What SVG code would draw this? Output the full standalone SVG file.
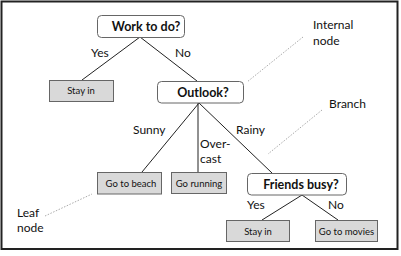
<svg xmlns="http://www.w3.org/2000/svg" width="401" height="256" viewBox="0 0 401 256">
  <style>
    text { font-family: Lato, "Open Sans", "Liberation Sans", sans-serif; fill: #111; }
    .q { font-size: 12.5px; font-weight: bold; text-anchor: middle; }
    .leaf { font-size: 9.5px; text-anchor: middle; }
    .lbl { font-size: 12px; }
    .note { font-size: 12px; }
    .decision { fill: #fff; stroke: #666; stroke-width: 1; }
    .outcome { fill: #d9d9d9; stroke: #666; stroke-width: 1; }
    .edge { stroke: #222; stroke-width: 1; fill: none; }
    .pointer { stroke: #aaa; stroke-width: 1; stroke-dasharray: 1.5 1.5; fill: none; }
  </style>

  <rect x="1.5" y="1.5" width="396" height="247.5" fill="#fff" stroke="#222" stroke-width="2"/>

  <g id="connectors">
    <line class="edge" x1="140" y1="37" x2="82" y2="80"/>
    <line class="edge" x1="140" y1="37" x2="197" y2="81"/>
    <line class="edge" x1="199" y1="103" x2="142" y2="172"/>
    <line class="edge" x1="198" y1="103" x2="198" y2="172"/>
    <line class="edge" x1="199" y1="103" x2="272" y2="173"/>
    <line class="edge" x1="302" y1="195" x2="262" y2="220"/>
    <line class="edge" x1="302" y1="195" x2="338" y2="220"/>
  </g>

  <g id="edge-labels">
    <text class="lbl" x="91" y="57">Yes</text>
    <text class="lbl" x="175" y="57">No</text>
    <text class="lbl" x="133" y="134">Sunny</text>
    <text class="lbl" x="200" y="148">Over-</text>
    <text class="lbl" x="200" y="163">cast</text>
    <text class="lbl" x="236" y="134">Rainy</text>
    <text class="lbl" x="247" y="209">Yes</text>
    <text class="lbl" x="328" y="209">No</text>
  </g>

  <g id="node-work">
    <rect class="decision" x="97.5" y="15.5" width="87" height="22" rx="4"/>
    <text class="q" x="146" y="31">Work to do?</text>
  </g>
  <g id="node-stay1">
    <rect class="outcome" x="49.5" y="80.5" width="64" height="21"/>
    <text class="leaf" x="81" y="94">Stay in</text>
  </g>
  <g id="node-outlook">
    <rect class="decision" x="157.5" y="81.5" width="86" height="21.5" rx="4"/>
    <text class="q" x="203" y="97">Outlook?</text>
  </g>
  <g id="node-beach">
    <rect class="outcome" x="97.5" y="172.5" width="64" height="21.5"/>
    <text class="leaf" x="131" y="186.5">Go to beach</text>
  </g>
  <g id="node-running">
    <rect class="outcome" x="171.5" y="172.5" width="55" height="21"/>
    <text class="leaf" x="199" y="186.5">Go running</text>
  </g>
  <g id="node-friends">
    <rect class="decision" x="247.5" y="173.5" width="99" height="21.5" rx="4"/>
    <text class="q" x="301" y="189">Friends busy?</text>
  </g>
  <g id="node-stay2">
    <rect class="outcome" x="226.5" y="220.5" width="63" height="21"/>
    <text class="leaf" x="258" y="234.5">Stay in</text>
  </g>
  <g id="node-movies">
    <rect class="outcome" x="315.5" y="220.5" width="62" height="21"/>
    <text class="leaf" x="346.5" y="234.5">Go to movies</text>
  </g>

  <g id="annotations">
    <line class="pointer" x1="303" y1="37" x2="247" y2="82"/>
    <text class="note" x="313" y="29">Internal</text>
    <text class="note" x="313" y="45">node</text>
    <line class="pointer" x1="322" y1="110" x2="268" y2="154"/>
    <text class="note" x="329" y="108">Branch</text>
    <line class="pointer" x1="45" y1="216" x2="92" y2="194"/>
    <text class="note" x="17" y="217">Leaf</text>
    <text class="note" x="17" y="232">node</text>
  </g>
</svg>
